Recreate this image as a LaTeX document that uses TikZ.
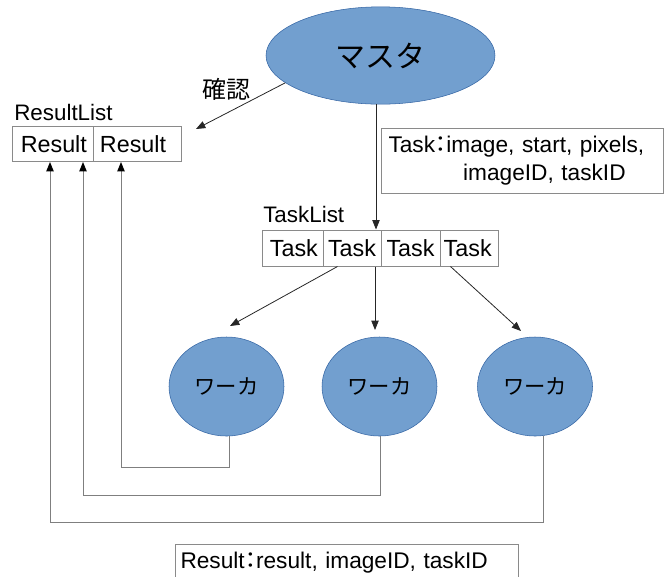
\documentclass[tikz,border=0pt]{standalone}
\usepackage{fontspec}
\setmainfont{Liberation Sans}
\newfontfamily\jp{Noto Sans CJK JP}
\newfontfamily\jpp[RawFeature={+palt}]{Noto Sans CJK JP}
\usetikzlibrary{arrows.meta,shapes.geometric,calc}
\definecolor{blobfill}{HTML}{729FCF}
\definecolor{blobedge}{HTML}{3465A4}
\definecolor{boxedge}{HTML}{8A8A8A}
\definecolor{retline}{HTML}{7F7F7F}
\tikzset{
  blob/.style={ellipse, fill=blobfill, draw=blobedge, line width=0.4pt, inner sep=0pt},
  worker/.style={blob, minimum width=86.25pt, minimum height=74.25pt, font=\jp\fontsize{16}{19}\selectfont},
  cell/.style={rectangle, draw=boxedge, line width=0.75pt, inner sep=0pt, font=\fontsize{17.5}{20}\selectfont},
  infobox/.style={rectangle, draw=boxedge, line width=0.75pt, inner sep=0pt, anchor=north west, align=left, font=\fontsize{17}{21}\selectfont},
  lbl/.style={inner sep=0pt, font=\fontsize{16.8}{19}\selectfont},
  arr/.style={draw=black!85, line width=0.6pt, -{Triangle[length=7pt,width=5.5pt]}},
  ret/.style={draw=retline, line width=0.75pt, -{Triangle[length=7pt,width=5.5pt,color=black]}}
}
\begin{document}
\begin{tikzpicture}[x=0.75pt,y=-0.75pt]
\useasboundingbox (0,0) rectangle (664,576);
\clip (0,0) rectangle (664,576);

% master
\node[blob, minimum width=171.75pt, minimum height=73pt, font=\jp\fontsize{22.5}{26}\selectfont] (m) at (380.5,55.5) {マスタ};
\node[inner sep=0pt, font=\jp\fontsize{18}{20}\selectfont] (kakunin) at (226,89) {確認};

% ResultList
\node[lbl, anchor=west] (rllabel) at (14,112) {ResultList};
\node[cell, minimum width=60.75pt, minimum height=26.25pt] (r1) at (52.5,144) {\hspace*{2pt}Result};
\node[cell, minimum width=66pt, minimum height=26.25pt] (r2) at (137,144) {Result\hspace*{6pt}};

% Task info
\node[infobox, minimum width=207pt, minimum height=48.75pt, text width=201pt, inner xsep=5.25pt] (tinfo) at (381,128)
  {Task{\jpp ：}image, start, pixels,\\\hspace*{56pt}imageID, taskID};

% TaskList
\node[lbl, anchor=west] (tllabel) at (263,214) {TaskList};
\node[cell, minimum width=45.75pt, minimum height=27pt] (t1) at (292.5,248) {\hspace*{2pt}Task};
\node[cell, minimum width=43.5pt, minimum height=27pt] (t2) at (352,248) {Task};
\node[cell, minimum width=44.25pt, minimum height=27pt] (t3) at (410.5,248) {Task};
\node[cell, minimum width=43.5pt, minimum height=27pt] (t4) at (469,248) {Task\hspace*{2pt}};

% workers
\node[worker] (w1) at (226.5,386.5) {ワーカ};
\node[worker] (w2) at (379.5,386.5) {ワーカ};
\node[worker] (w3) at (535,386.5) {ワーカ};

% Result info
\node[infobox, minimum width=254.25pt, minimum height=27pt, text width=250pt, inner xsep=3.75pt] (rinfo) at (175,544)
  {Result{\jpp ：}result, imageID, taskID};

% free ends
\coordinate (rl) at (196,129);
\coordinate (mt) at (376,0);
\coordinate (e1) at (230,326);
\coordinate (e2) at (375,330);
\coordinate (e3) at (521,331);
\coordinate (b1) at (121,467);
\coordinate (b2) at (83,495);
\coordinate (b3) at (50,522);

% connectors
\draw[arr] (m.196) -- (rl);
\draw[draw=black!85, line width=0.6pt] (m.south -| mt) -- (tinfo.west -| mt);
\draw[arr] (tinfo.west -| mt) -- (t2.north -| mt);
\draw[arr] ([xshift=11.25pt]t2.south west) -- (e1);
\draw[arr] (t2.south -| e2) -- (e2);
\draw[arr] ([xshift=8.25pt]t4.south west) -- (e3);

\draw[ret] ([xshift=1.9pt]w1.south) |- (b1) -- (b1 |- r2.south);
\draw[ret] ([xshift=1.1pt]w2.south) |- (b2) -- (b2 |- r1.south);
\draw[ret] ([xshift=6pt]w3.south) |- (b3) -- (b3 |- r1.south);
\end{tikzpicture}
\end{document}
